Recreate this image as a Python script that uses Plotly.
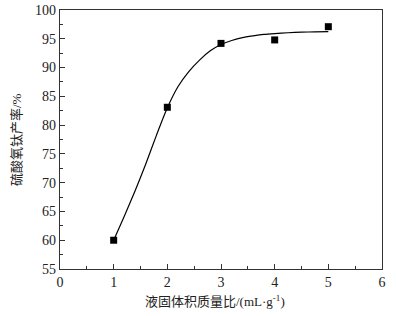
import plotly.graph_objects as go

# measured points
ratio = [1, 2, 3, 4, 5]
yield_pct = [60.0, 83.1, 94.2, 94.8, 97.1]

# fitted curve
curve_x = [1.0, 1.2, 1.4, 1.6, 1.8, 2.0, 2.2, 2.4, 2.6, 2.8, 3.0, 3.2, 3.4, 3.6, 3.8, 4.0, 4.25, 4.5, 4.75, 5.0]
curve_y = [60.0, 64.2, 68.6, 73.3, 78.3, 83.0, 86.7, 89.3, 91.3, 92.9, 94.0, 94.7, 95.2, 95.5, 95.75, 95.9, 96.05, 96.15, 96.2, 96.25]

x_ticks = [0, 1, 2, 3, 4, 5, 6]
y_ticks = [55, 60, 65, 70, 75, 80, 85, 90, 95, 100]

fig = go.Figure()
fig.add_trace(go.Scatter(x=curve_x, y=curve_y, mode="lines",
                         line=dict(color="black", width=1.2, shape="spline", smoothing=0.6),
                         showlegend=False, hoverinfo="skip"))
fig.add_trace(go.Scatter(x=ratio, y=yield_pct, mode="markers",
                         marker=dict(symbol="square", size=7, color="black"),
                         showlegend=False))

font_main = "Liberation Serif, Times New Roman, Noto Sans CJK SC, serif"
axis_common = dict(showgrid=False, zeroline=False, showline=True, linecolor="#333",
                   linewidth=1.2, mirror=True, ticks="inside", ticklen=5, tickwidth=1,
                   tickcolor="#333", automargin=False,
                   tickfont=dict(family=font_main, size=14, color="#222"))

fig.update_xaxes(range=[0, 6], tickvals=x_ticks,
                 minor=dict(ticks="inside", ticklen=3, dtick=0.5, tickcolor="#333", tickwidth=1),
                 **axis_common)
fig.update_yaxes(range=[55, 100], tickvals=y_ticks,
                 minor=dict(ticks="inside", ticklen=3, dtick=2.5, tickcolor="#333", tickwidth=1),
                 **axis_common)

title_font = dict(family=font_main, size=13, color="#222")
fig.add_annotation(text="液固体积质量比/(mL·g<sup>-1</sup>)", xref="paper", yref="paper",
                   x=0.48, y=-0.125, yanchor="middle", xanchor="center",
                   showarrow=False, font=title_font)
fig.add_annotation(text="硫酸氧钛产率/%", xref="paper", yref="paper",
                   x=-0.135, y=0.5, xanchor="center", yanchor="middle", textangle=-90,
                   showarrow=False, font=title_font)

fig.update_layout(width=396, height=316, margin=dict(l=60, r=14, t=10, b=47),
                  plot_bgcolor="white", paper_bgcolor="white",
                  font=dict(family=font_main, color="#222"))

fig.write_html("out.html", config={"displayModeBar": False},
               post_script="document.body.style.margin='0';")
